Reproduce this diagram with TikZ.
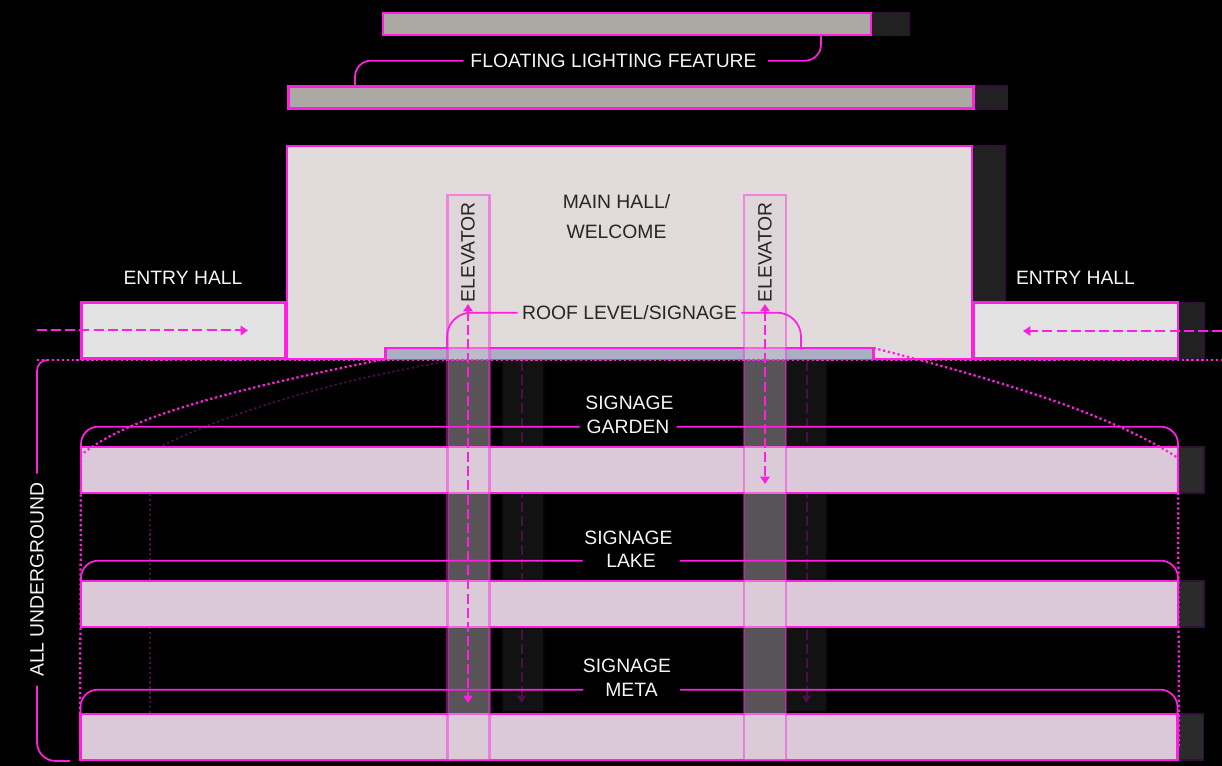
\documentclass[tikz,border=0pt]{standalone}
\usepackage{fontspec}
\setmainfont{Liberation Sans}
\usetikzlibrary{arrows.meta, positioning, calc, backgrounds}
\definecolor{hotpink}{HTML}{FF1FE0}
\definecolor{fadepink}{HTML}{4A0E48}
\definecolor{shadeedge}{HTML}{33103A}
\definecolor{lampfill}{HTML}{ABA7A2}
\definecolor{hallfill}{HTML}{E1DBDB}
\definecolor{entryfill}{HTML}{E3E3E3}
\definecolor{roofblue}{HTML}{A8AEC3}
\definecolor{levelfill}{HTML}{DBC8D8}
\definecolor{liftfill}{HTML}{DCD0DA}

\begin{document}
\begin{tikzpicture}[x=0.75pt, y=-0.75pt,
            wh/.style 2 args={minimum width=#1*0.75pt, minimum height=#2*0.75pt, inner sep=0pt, outer sep=0pt},
            box/.style={draw=hotpink, line width=2.1pt},
            lamp/.style={box, line width=1.9pt, fill=lampfill},
            hall/.style={box, fill=hallfill},
            entry/.style={box, fill=entryfill},
            level/.style={draw=hotpink, line width=1.8pt, fill=levelfill},
            shade/.style={draw=shadeedge, line width=1pt, fill=black!87},
            shadelow/.style={shade, fill=black!83},
            lift/.style={draw=hotpink, draw opacity=0.45, line width=1.6pt, fill=liftfill, fill opacity=0.4},
            liftdark/.style={draw=black!85!shadeedge, line width=1pt, fill=black!93},
            txt/.style={font=\fontsize{14.5}{22.5}\selectfont, text=white!96!black, inner sep=3.4pt, outer sep=0pt, yshift=-0.5pt},
            dark/.style={txt, text=black!85},
            lvl/.style={txt, minimum width=97*0.75pt},
            lead/.style={draw=hotpink, line width=1.3pt},
            go/.style={draw=hotpink, line width=1.5pt, dash pattern=on 7.5pt off 3.1pt, -{Triangle[length=5.5pt,width=7pt]}},
            gofade/.style={go, draw=fadepink},
            both/.style={{Triangle[length=5.5pt,width=7pt]}-{Triangle[length=5.5pt,width=7pt]}},
            dots/.style={draw=hotpink, line width=1.7pt, dash pattern=on 1.7pt off 2pt},
            dotsfade/.style={dots, draw=fadepink, line width=1.3pt}]
            \useasboundingbox (0,0) rectangle (1222,766);
            % main boxes
            \node[lamp, wh={488}{22}] (lamptop) at (627,24) {};
            \node[lamp, wh={685}{22}] (lamplow) at (631,97.5) {};
            \node[hall, wh={685}{213}] (mainhall) at (629.5,252.5) {};
            \node[entry, wh={204}{56}] (entryleft) at (183.5,330.5) {};
            \node[entry, wh={204}{56}] (entryright) at (1076,330.5) {};
            \node[fill=roofblue, wh={488}{11}] (roofband) at (629.5,353.5) {};
            \node[level, wh={1097}{46}] (levelgarden) at (629.5,470) {};
            \node[level, wh={1097}{46}] (levellake) at (629.5,604) {};
            \node[level, wh={1097}{46}] (levelmeta) at (629,737) {};
            \begin{scope}[on background layer]
                \fill[black] (0,0) rectangle (1222,766);
                \node[shade, wh={38}{23}, right=0pt of lamptop] (shadetop) {};
                \node[shade, wh={34}{23}, right=0pt of lamplow] (shadelamp) {};
                \node[shade, wh={33}{157}, anchor=north west] (shadehall) at (mainhall.north east) {};
                \node[shade, wh={26}{56}, right=0pt of entryright] (shadeentry) {};
                \foreach \n in {levelgarden,levellake,levelmeta} {
                    \node[shadelow, wh={26}{46}, right=0pt of \n] (shade\n) {};
                }
                \node[liftdark, wh={42}{352}, anchor=north] (liftbackA) at (523,360) {};
                \node[liftdark, wh={41}{352}, anchor=north] (liftbackB) at (806.5,360) {};
                % faded lines
                \coordinate (fadestart) at (443,362);
                \coordinate (fadeend) at (150,452);
                \coordinate (fadedown) at (150,494);
                \coordinate (fadefoot) at (150,713);
                \draw[dotsfade] (fadestart) .. controls (340,380) and (230,410) .. (fadeend);
                \draw[dotsfade] (fadedown) -- (fadefoot);
                \coordinate (backAtop) at (521.5,361);
                \coordinate (backAend) at (521.5,703);
                \coordinate (backBtop) at (806.5,361);
                \coordinate (backBend) at (806.5,703);
                \draw[gofade] (backAtop) -- (backAend);
                \draw[gofade] (backBtop) -- (backBend);
            \end{scope}
            \draw[box] (roofband.south west) |- (roofband.north east) -- (roofband.south east);
            % elevators
            \node[lift, wh={42}{565}, anchor=north] (liftA) at (468.5,195) {};
            \node[lift, wh={42}{565}, anchor=north] (liftB) at (765,195) {};
            % ground and dotted outlines
            \coordinate (groundleft) at (37,360);
            \coordinate (groundright) at (1222,360);
            \draw[dots] (groundleft) -- (groundright);
            \coordinate (curveleft) at (81,455);
            \coordinate (curveright) at (1178,458);
            \draw[dots] (roofband.south west) .. controls (240,388) and (130,415) .. (curveleft);
            \draw[dots] (roofband.north east) .. controls (1020,385) and (1120,420) .. (curveright);
            \coordinate (sideleft) at (80,747);
            \coordinate (sideright) at (1179,747);
            \draw[dots] (curveleft) -- (sideleft);
            \draw[dots] (curveright) -- (sideright);
            % labels
            \node[txt, wh={300}{20}] (lamplabel) at (613.5,60) {FLOATING LIGHTING FEATURE};
            \node[dark, align=center] (halllabel) at (616.5,216) {MAIN HALL/\\WELCOME};
            \node[txt] (entrylabelL) at (183,277) {ENTRY HALL};
            \node[txt] (entrylabelR) at (1075.5,277) {ENTRY HALL};
            \node[dark, rotate=90] (liftlabelA) at (468,251.5) {ELEVATOR};
            \node[dark, rotate=90] (liftlabelB) at (765,251.5) {ELEVATOR};
            \node[dark] (rooflabel) at (629.5,312) {ROOF LEVEL/SIGNAGE};
            \node[txt] (gardentop) at (629.5,402) {SIGNAGE};
            \node[lvl] (gardenlabel) at (628,426) {GARDEN};
            \node[txt] (laketop) at (628.5,537) {SIGNAGE};
            \node[lvl] (lakelabel) at (631,560) {LAKE};
            \node[txt] (metatop) at (627,665) {SIGNAGE};
            \node[lvl] (metalabel) at (631.5,689) {META};
            \node[txt, rotate=90, wh={212}{20}] (underlabel) at (37,579) {ALL UNDERGROUND};
            % leaders
            \draw[lead, rounded corners=12pt] (lamplabel.west) -| (lamplow.north -| 355,0);
            \draw[lead, rounded corners=12pt] ([xshift=3.4pt]lamplabel.east) -| (lamptop.south -| 821,0);
            \coordinate (roofL) at (447,348);
            \coordinate (roofR) at (801,348);
            \draw[lead, rounded corners=18pt] (rooflabel.west) -| (roofL);
            \draw[lead, rounded corners=18pt] (rooflabel.east) -| (roofR);
            \foreach \n in {garden,lake,meta} {
                \draw[lead, rounded corners=13pt] (\n label.west) -| (level\n.north west);
                \draw[lead, rounded corners=13pt] (\n label.east) -| (level\n.north east);
            }
            \coordinate (undertop) at (48,360);
            \coordinate (underfoot) at (70,761);
            \draw[lead, rounded corners=8pt] (underlabel.east) |- (undertop);
            \draw[lead, rounded corners=14pt] (underlabel.west) |- (underfoot);
            % arrows
            \coordinate (walkinL) at (37,330.5);
            \coordinate (walkendL) at (248,330.5);
            \coordinate (walkinR) at (1222,331);
            \coordinate (walkendR) at (1023,331);
            \draw[go] (walkinL) -- (walkendL);
            \draw[go] (walkinR) -- (walkendR);
            \coordinate (rideAtop) at (468,304);
            \coordinate (rideAend) at (468,703);
            \coordinate (rideBtop) at (765,304);
            \coordinate (rideBend) at (765,484);
            \draw[go, both] (rideAtop) -- (rideAend);
            \draw[go, both] (rideBtop) -- (rideBend);
        \end{tikzpicture}
\end{document}
